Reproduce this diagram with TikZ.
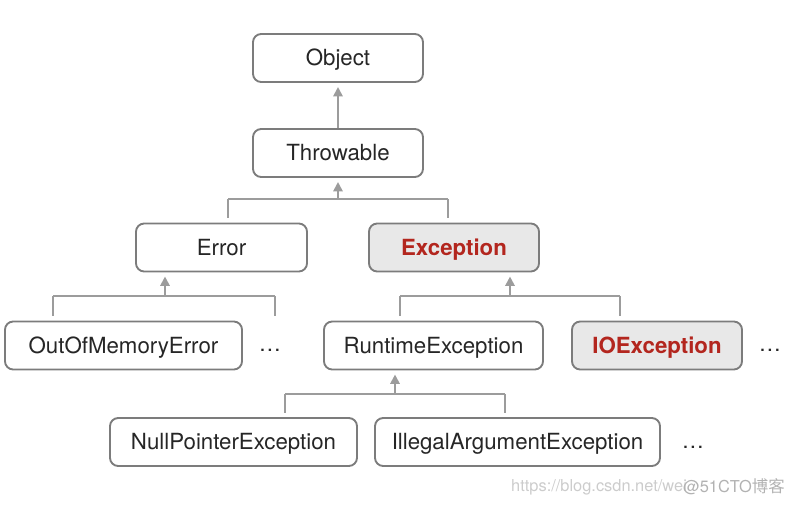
\documentclass[tikz,border=0pt]{standalone}
\usepackage{fontspec}
\setmainfont{TeX Gyre Heros}
\newfontfamily\cjk{Noto Sans CJK SC}
\usetikzlibrary{arrows.meta}

\definecolor{linegray}{HTML}{9C9C9C}
\definecolor{boxgray}{HTML}{7C7C7C}
\definecolor{hotfill}{HTML}{E8E8E8}
\definecolor{hotred}{HTML}{B3261E}
\definecolor{txt}{HTML}{262626}

\tikzstyle{cls} = [draw=boxgray, line width=1.6pt, rounded corners=7pt, fill=white,
  minimum height=1.44cm, inner sep=0pt, text height=13.6pt, text depth=0pt,
  text=txt, font=\fontsize{19}{19}\selectfont]
\tikzstyle{hot} = [cls, fill=hotfill, text=hotred, font=\fontsize{19}{19}\selectfont\bfseries]
\tikzstyle{more} = [text=txt, font=\fontsize{19}{19}\selectfont]
\tikzstyle{bar} = [draw=linegray, line width=1.7pt]
\tikzstyle{drop} = [bar, shorten >=3.5pt]
\tikzstyle{arw} = [bar, -{Triangle[length=8pt,width=8pt]}, shorten >=3.5pt]

\begin{document}
\begin{tikzpicture}[x=0.03cm,y=-0.03cm]
\useasboundingbox (0,0) rectangle (790,505);

% classes
\node[cls, minimum width=5.1cm] (obj) at (338,58) {Object};
\node[cls, minimum width=5.1cm] (thr) at (338,153) {Throwable};
\node[cls, minimum width=5.13cm] (err) at (221.5,247.5) {Error};
\node[hot, minimum width=5.1cm] (exc) at (454,247.5) {Exception};
\node[cls, minimum width=7.11cm] (oom) at (123.5,345.5) {OutOfMemoryError};
\node[more] (dots1) at (270,350) {…};
\node[cls, minimum width=6.57cm] (rte) at (433.5,345.5) {RuntimeException};
\node[hot, minimum width=5.1cm] (ioe) at (657,345.5) {IOException};
\node[more] (dots2) at (770,350) {…};
\node[cls, minimum width=7.41cm] (npe) at (233.5,442) {NullPointerException};
\node[cls, minimum width=8.55cm] (iae) at (517.5,442) {IllegalArgumentException};
\node[more] (dots3) at (693,447) {…};

% Object <- Throwable
\draw[arw] (thr.north) -- (obj.south);

% Throwable <- Error, Exception
\coordinate (t1) at (228,199);
\coordinate (t2) at (448,199);
\draw[bar] (t1) -- (t2);
\draw[drop] (t1) -- (t1 |- err.north);
\draw[drop] (t2) -- (t2 |- exc.north);
\draw[arw] (thr.south |- t1) -- (thr.south);

% Error <- OutOfMemoryError, ...
\coordinate (e1) at (53,296);
\coordinate (e2) at (275,296);
\draw[bar] (e1) -- (e2);
\draw[drop] (e1) -- (e1 |- oom.north);
\draw[drop] (e2) -- (e2 |- oom.north);
\draw[arw] (165,296) -- (165,0 |- err.south);

% Exception <- RuntimeException, IOException
\coordinate (x1) at (400,296);
\coordinate (x2) at (620,296);
\draw[bar] (x1) -- (x2);
\draw[drop] (x1) -- (x1 |- rte.north);
\draw[drop] (x2) -- (x2 |- ioe.north);
\draw[arw] (510,296) -- (510,0 |- exc.south);

% RuntimeException <- NullPointerException, IllegalArgumentException
\coordinate (r1) at (285,394);
\coordinate (r2) at (505,394);
\draw[bar] (r1) -- (r2);
\draw[drop] (r1) -- (r1 |- npe.north);
\draw[drop] (r2) -- (r2 |- iae.north);
\draw[arw] (395,394) -- (395,0 |- rte.south);

% watermark
\node[anchor=west, inner sep=0pt, text=black!20, font=\fontsize{14}{14}\selectfont] (url) at (511,487) {https://blog.csdn.net/wei};
\node[anchor=east, inner sep=0pt, text=black!30, font=\fontsize{14}{14}\selectfont] (mark) at (785,487) {@51CTO{\cjk 博客}};
\end{tikzpicture}
\end{document}
